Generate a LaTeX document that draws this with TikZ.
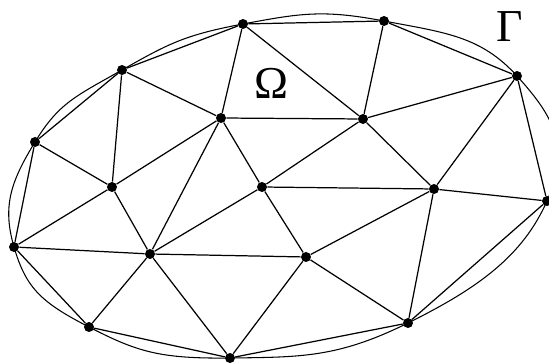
\documentclass[tikz,border=0pt]{standalone}
\usepackage{fontspec}
\setmainfont{Liberation Serif}
\usepackage{tikz}
\usetikzlibrary{arrows.meta,positioning}

\begin{document}
\begin{tikzpicture}[
x=0.02cm, y=-0.02cm,
vtx/.style={circle, fill=black, inner sep=0pt, minimum size=0.2cm},
edg/.style={line width=0.7pt},
lbl/.style={font=\fontsize{26}{30}\selectfont, inner sep=0pt}
]
\useasboundingbox (0,0) rectangle (549,364);
% mesh vertices
\node[vtx] (a) at (243,24) {};
\node[vtx] (b) at (384,21) {};
\node[vtx] (c) at (517,76) {};
\node[vtx] (d) at (547,201) {};
\node[vtx] (e) at (408,323) {};
\node[vtx] (f) at (230,358) {};
\node[vtx] (g) at (89,327) {};
\node[vtx] (h) at (14,247) {};
\node[vtx] (i) at (35,142) {};
\node[vtx] (j) at (122,70) {};
\node[vtx] (k) at (221,118) {};
\node[vtx] (l) at (363,119) {};
\node[vtx] (m) at (112,187) {};
\node[vtx] (n) at (262,187) {};
\node[vtx] (o) at (434,189) {};
\node[vtx] (p) at (150,254) {};
\node[vtx] (q) at (306,257) {};
\node[lbl] (om) at (271,83) {Ω};
\node[lbl] (ga) at (510,27) {Γ};
% boundary curve
\draw[line width=0.6pt] plot[smooth cycle, tension=0.8] coordinates {(a.center) (b.center) (c.center) (d.center) (e.center) (f.center) (g.center) (h.center) (i.center) (j.center)};
% polygon
\draw[edg] (a)--(b);
\draw[edg] (b)--(c);
\draw[edg] (c)--(d);
\draw[edg] (d)--(e);
\draw[edg] (e)--(f);
\draw[edg] (f)--(g);
\draw[edg] (g)--(h);
\draw[edg] (h)--(i);
\draw[edg] (i)--(j);
\draw[edg] (j)--(a);
% inner edges
\draw[edg] (j)--(k);
\draw[edg] (j)--(m);
\draw[edg] (i)--(m);
\draw[edg] (a)--(k);
\draw[edg] (a)--(l);
\draw[edg] (k)--(l);
\draw[edg] (k)--(m);
\draw[edg] (k)--(p);
\draw[edg] (k)--(n);
\draw[edg] (b)--(l);
\draw[edg] (l)--(c);
\draw[edg] (l)--(n);
\draw[edg] (l)--(o);
\draw[edg] (c)--(o);
\draw[edg] (m)--(h);
\draw[edg] (m)--(p);
\draw[edg] (n)--(p);
\draw[edg] (h)--(p);
\draw[edg] (p)--(q);
\draw[edg] (p)--(g);
\draw[edg] (p)--(f);
\draw[edg] (n)--(o);
\draw[edg] (o)--(d);
\draw[edg] (q)--(o);
\draw[edg] (q)--(e);
\draw[edg] (q)--(n);
\draw[edg] (q)--(f);
\draw[edg] (o)--(e);
\end{tikzpicture}
\end{document}
